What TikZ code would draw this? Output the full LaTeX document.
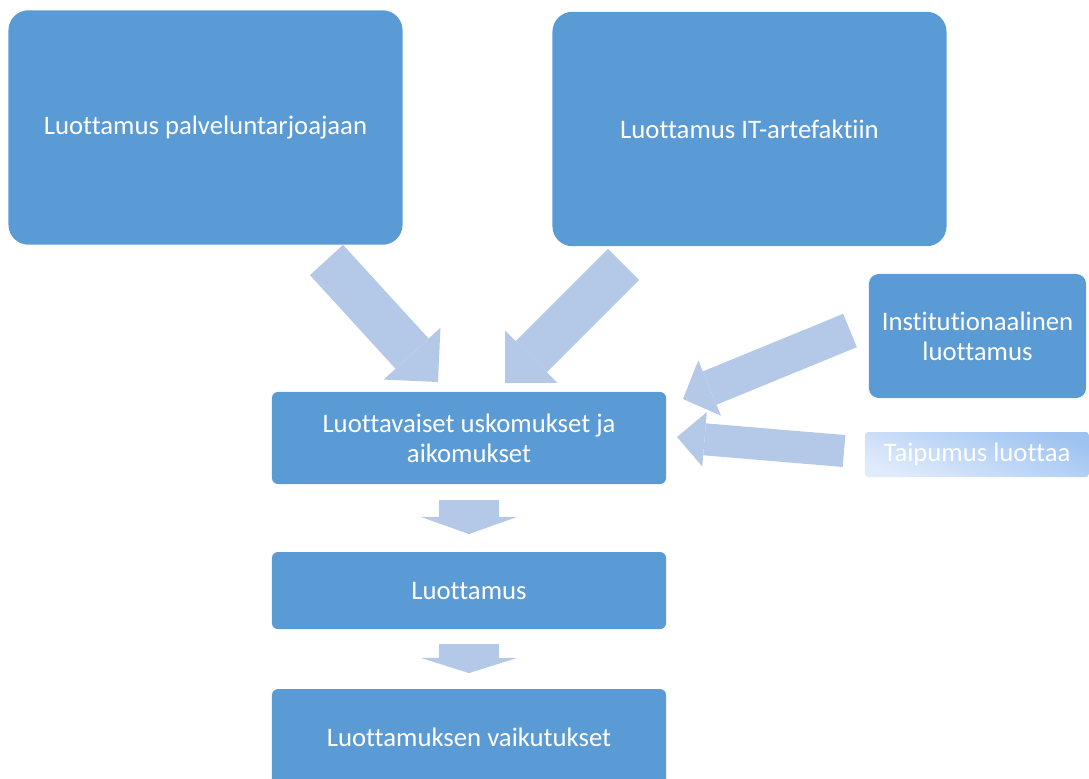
\documentclass[tikz,border=0pt]{standalone}
\usepackage{fontspec}
\setmainfont{Carlito}[Ligatures=NoCommon]
\usetikzlibrary{arrows.meta,positioning}

\definecolor{boxblue}{RGB}{91,155,213}
\definecolor{flowblue}{RGB}{180,200,231}
\definecolor{dispdark}{RGB}{158,195,241}
\definecolor{displight}{RGB}{224,235,251}

\begin{document}
\begin{tikzpicture}
[x=0.025cm,y=-0.025cm,
box/.style={rectangle,fill=boxblue,text=white,align=center,
inner sep=0pt,outer sep=0pt,rounded corners=0.15cm,
font=\fontsize{19}{21.5}\selectfont},
bigbox/.style={box,minimum width=9.85cm,minimum height=5.86cm,rounded corners=0.5cm},
midbox/.style={box,minimum width=9.85cm},
flow/.style={draw=flowblue,line width=#1},
tip/.style 2 args={-{Triangle[width=#1,length=#2,line width=0pt,fill=flowblue]}}]

\clip (0,0) rectangle (1089,778);

% upper sources
\node[bigbox] (palvelu) at (205.5,127.5) {Luottamus palveluntarjoajaan};
\node[bigbox] (artefakti) at (749.5,129) {Luottamus IT-artefaktiin};

% right side sources
\node[box,minimum width=5.43cm,minimum height=3.1cm,rounded corners=0.25cm]
  (instituutio) at (977.5,336) {Institutionaalinen\\luottamus};
\node[box,minimum width=5.6cm,minimum height=1.125cm,rounded corners=0.08cm,
  fill=none,top color=dispdark,bottom color=displight,shading angle=-20]
  (taipumus) at (977,454.5) {Taipumus luottaa};

% main chain
\node[midbox,minimum height=2.3cm] (uskomukset) at (469,438) {Luottavaiset uskomukset ja\\aikomukset};
\node[midbox,minimum height=1.925cm] (luottamus) [below=1.7cm of uskomukset] {Luottamus};
\node[midbox,minimum height=2.4cm] (vaikutukset) [below=1.5cm of luottamus] {Luottamuksen vaikutukset};

% arrow ends
\coordinate (p1) at (326.5,260);  \coordinate (u1) at (438,382);
\coordinate (a1) at (623.5,264.5); \coordinate (u2) at (505,383);
\coordinate (i1) at (850,330.5);  \coordinate (u3) at (683,399);
\coordinate (t1) at (844,451);    \coordinate (u4) at (677,437);
\coordinate (u5) at ([yshift=-0.4cm]uskomukset.south);
\coordinate (l1) at ([yshift=0.45cm]luottamus.north);
\coordinate (l2) at ([yshift=-0.375cm]luottamus.south);
\coordinate (v1) at ([yshift=0.4cm]vaikutukset.north);

\draw[flow=1.12cm,tip={1.92cm}{0.96cm}] (p1) -- (u1);
\draw[flow=1.1cm,tip={1.85cm}{0.93cm}] (a1) -- (u2);
\draw[flow=0.9cm,tip={1.5cm}{0.72cm}] (i1) -- (u3);
\draw[flow=0.8cm,tip={1.36cm}{0.69cm}] (t1) -- (u4);
\draw[flow=1.5cm,tip={2.42cm}{0.43cm}] (u5) -- (l1);
\draw[flow=1.5cm,tip={2.42cm}{0.38cm}] (l2) -- (v1);

\end{tikzpicture}
\end{document}
